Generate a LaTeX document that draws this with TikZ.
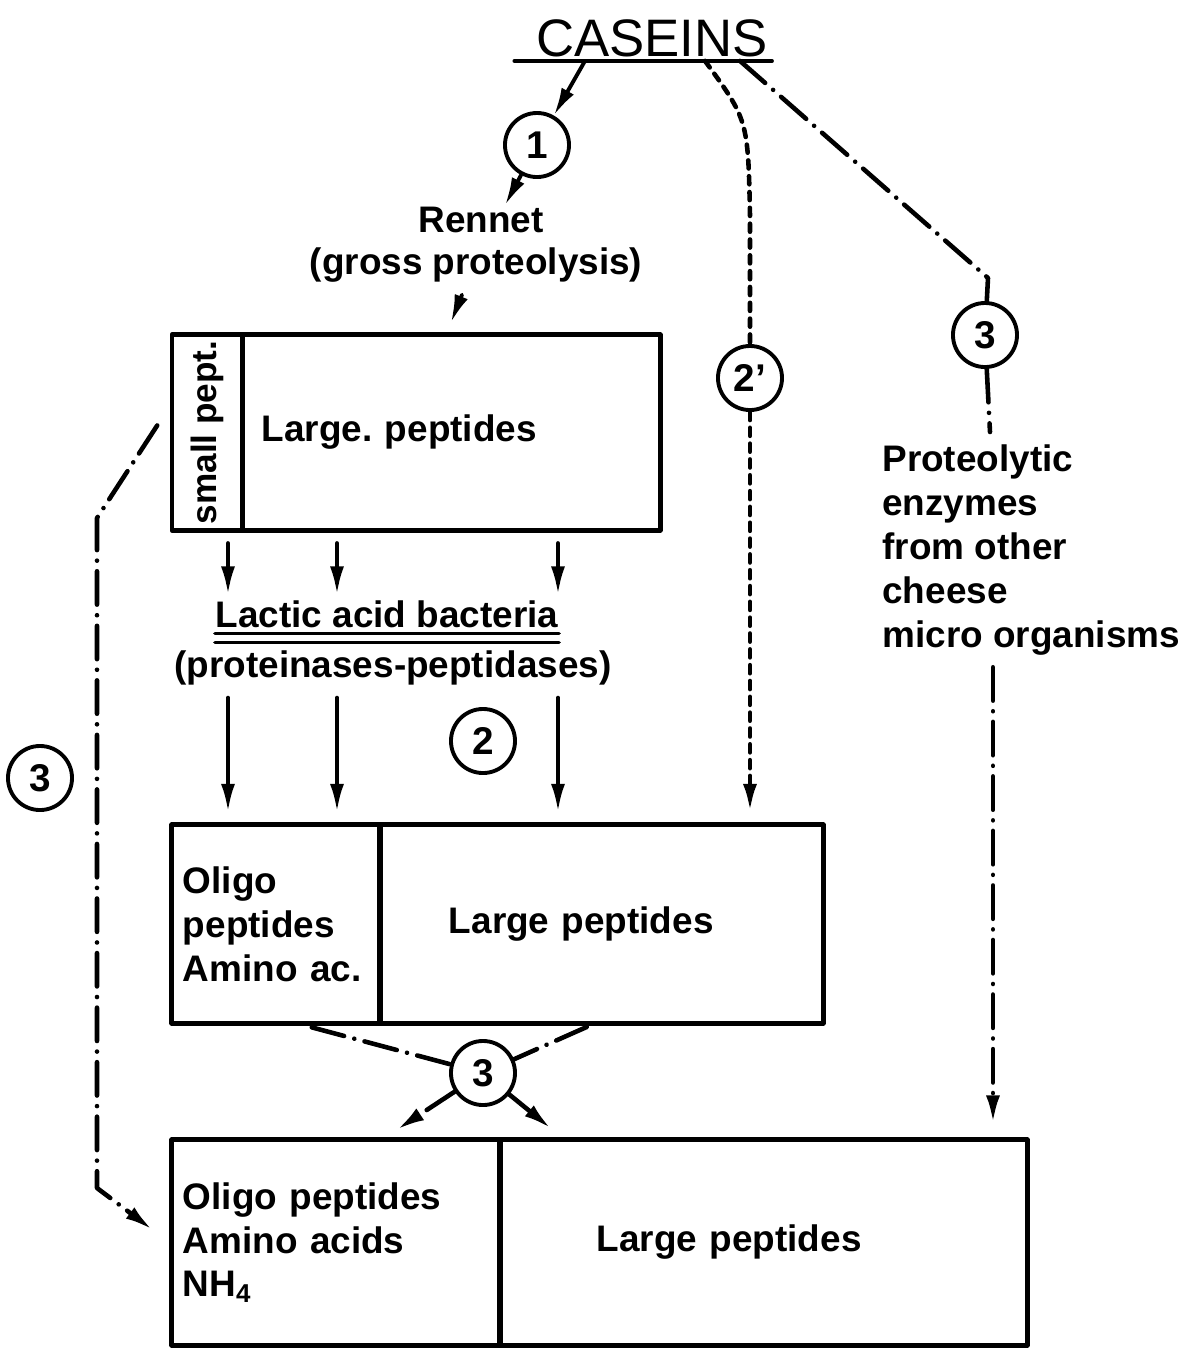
\documentclass[tikz,border=0pt]{standalone}
\usepackage{fontspec}
\setmainfont{Liberation Sans}
\usetikzlibrary{arrows.meta}
\begin{document}
\begin{tikzpicture}[x=0.01cm, y=-0.01cm, line join=round, line cap=round,
  >={Latex[length=2.8mm,width=1.4mm]},
  font=\fontsize{10.5}{12.5}\selectfont\bfseries,
  box/.style={draw, line width=1.4pt, inner sep=0pt},
  num/.style={draw, circle, line width=1.1pt, minimum size=0.64cm, inner sep=0pt, font=\fontsize{11}{13}\selectfont\bfseries},
  arr/.style={->, line width=1.1pt},
  dd/.style={line width=1.3pt, dash pattern=on 9.5pt off 3pt on 0.01pt off 3pt},
  dsh/.style={line width=1.3pt, dash pattern=on 2.3pt off 2.2pt}]
\useasboundingbox (0,0) rectangle (1191,1350);
% Caseins and rennet
\node[inner sep=1pt, font=\fontsize{15}{17}\selectfont] (cas) at (652,38) {CASEINS};
\draw[line width=1.1pt] ([xshift=-5pt]cas.south west) -- (cas.south east);
\node[num] (c1) at (537,145) {1};
\node (ren) at (481,220) {Rennet};
\node (gro) at (476,265) {(gross proteolysis)};
\draw[arr] (cas.south -| 585,0) -- (c1);
\draw[arr] (c1) -- ([yshift=-3pt]ren.north -| 505,0);
% first box
\node[box, minimum width=0.71cm, minimum height=1.95cm] (b1s) at (207.5,432.5) {};
\node[rotate=90, font=\fontsize{10}{12}\selectfont\bfseries] (sp) at (b1s) {small pept.};
\node[box, minimum width=4.17cm, minimum height=1.95cm, text width=3.79cm, inner xsep=0.19cm, align=left] (b1l) at (451.5,432.5) {Large.\ peptides};
\draw[arr, shorten >=3pt] (gro.south -| 462,0) -- (b1l.north -| 447,0);
% lactic acid bacteria
\node[inner xsep=0pt, inner ysep=1.5pt] (lab) at (387,614) {Lactic acid bacteria};
\draw[line width=1pt] (lab.south west) -- (lab.south east);
\draw[line width=1pt] ([yshift=-2.5pt]lab.south west) -- ([yshift=-2.5pt]lab.south east);
\node (prot) at (393,668) {(proteinases-peptidases)};
\node[num] (c2) at (483,741) {2};
% second box
\node[box, minimum width=2.08cm, minimum height=1.98cm, text width=1.86cm, inner xsep=0.11cm, align=left] (b2l) at (276,924) {Oligo\\peptides\\Amino ac.};
\node[box, minimum width=4.43cm, minimum height=1.98cm, text width=3.05cm, inner xsep=0.69cm, align=left] (b2r) at (601.5,924) {Large peptides};
\foreach \x in {228,337,558} {
  \draw[arr, shorten <=3pt] (b1l.south -| \x,0) -- (lab.north -| \x,0);
  \draw[arr, shorten >=3pt] (prot.south -| \x,0) -- (b2l.north -| \x,0);
}
% route 2'
\node[num] (c2p) at (750,378) {2'};
\coordinate (k2) at (750,215);
\draw[dsh] (cas.south -| 705,0) .. controls (748,120) .. (k2) -- (c2p);
\draw[dsh, ->, shorten >=3pt] (c2p) -- (b2r.north -| 750,0);
% route 3 from other organisms
\node[num] (c3a) at (985,335) {3};
\coordinate (k3) at (988,278);
\draw[dd] (cas.south -| 740,0) -- (k3) -- (c3a);
\node[align=left, anchor=north west] (enz) at (870,432) {Proteolytic\\enzymes\\from other\\cheese\\micro organisms};
\draw[dd] (c3a) -- (enz.north -| 990,0);
% third box
\node[box, minimum width=3.28cm, minimum height=2.05cm, text width=3.06cm, inner xsep=0.11cm, align=left] (b3l) at (336,1242.5) {Oligo peptides\\Amino acids\\NH\textsubscript{4}};
\node[box, minimum width=5.27cm, minimum height=2.05cm, text width=3.33cm, inner xsep=0.97cm, align=left] (b3r) at (763.5,1242.5) {Large peptides};
\draw[dd, ->, shorten >=4pt] (enz.south -| 993,0) -- (b3r.north -| 993,0);
% route 3 between boxes
\node[num] (c3b) at (483,1073) {3};
\draw[dd, shorten <=2pt] (b2l.south -| 305,0) -- (c3b);
\draw[dd, shorten <=1pt] (b2r.south -| 590,0) -- (c3b);
\draw[dd, ->, shorten >=4pt] (c3b) -- (b3l.north -| 385,0);
\draw[dd, ->, shorten >=4pt] (c3b) -- (b3r.north -| 562,0);
% route 3 on the left
\node[num] (c3c) at (40,778) {3};
\coordinate (l1) at (97,518);
\coordinate (l2) at (97,1188);
\draw[dd, ->, shorten >=6pt] ([xshift=-3.5pt,yshift=2pt]b1s.west) -- (l1) -- (l2) -- (b3l.west);
\end{tikzpicture}
\end{document}
